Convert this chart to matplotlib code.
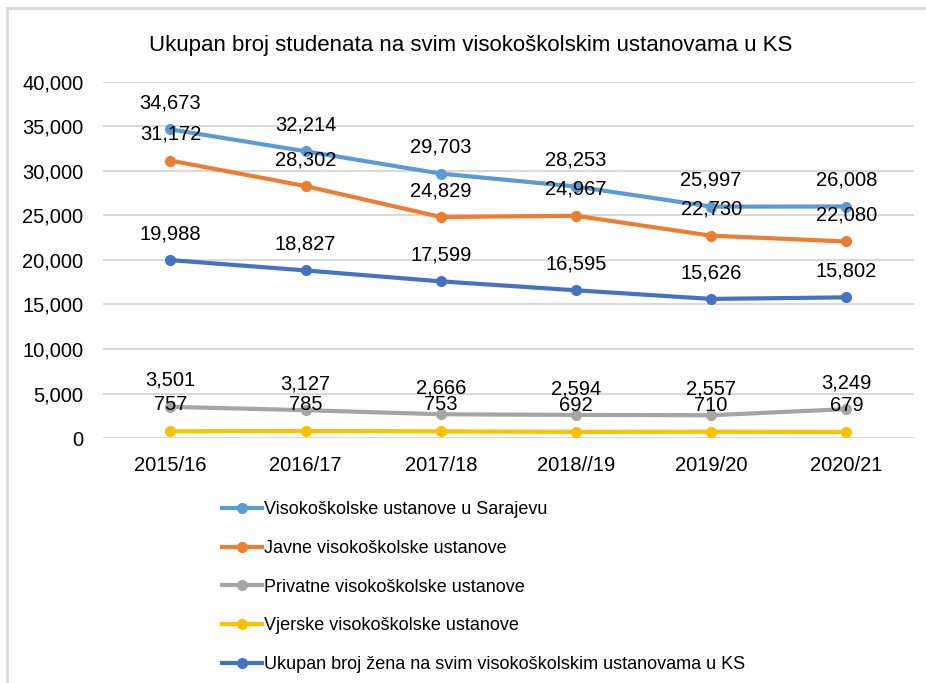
import matplotlib
matplotlib.use("Agg")
import matplotlib.pyplot as plt
from matplotlib.lines import Line2D

plt.rcParams['font.family'] = ['Liberation Sans', 'DejaVu Sans']

# Data
years = ["2015/16", "2016/17", "2017/18", "2018//19", "2019/20", "2020/21"]
sarajevo = [34673, 32214, 29703, 28253, 25997, 26008]
javne = [31172, 28302, 24829, 24967, 22730, 22080]
privatne = [3501, 3127, 2666, 2594, 2557, 3249]
vjerske = [757, 785, 753, 692, 710, 679]
zene = [19988, 18827, 17599, 16595, 15626, 15802]

series = [
    ("Visokoškolske ustanove u Sarajevu", sarajevo, "#5B9BD5"),
    ("Javne visokoškolske ustanove", javne, "#ED7D31"),
    ("Privatne visokoškolske ustanove", privatne, "#A5A5A5"),
    ("Vjerske visokoškolske ustanove", vjerske, "#FFC000"),
    ("Ukupan broj žena na svim visokoškolskim ustanovama u KS", zene, "#4472C4"),
]
yticks = [0, 5000, 10000, 15000, 20000, 25000, 30000, 35000, 40000]
title = "Ukupan broj studenata na svim visokoškolskim ustanovama u KS"

fig = plt.figure(figsize=(9.26, 6.83), dpi=100)
ax = fig.add_axes([0.111, 0.3587, 0.876, 0.5213])

x = list(range(len(years)))
handles = []
for name, vals, col in series:
    ax.plot(x, vals, color=col, lw=3, marker='o', ms=7, zorder=3,
            solid_capstyle='round')
    for xi, v in zip(x, vals):
        ax.annotate(f"{v:,}", (xi, v), xytext=(0, 19), textcoords='offset points',
                    ha='center', va='center', fontsize=14.5, color='#000000', zorder=5)
    handles.append(Line2D([0], [0], color=col, lw=3, marker='o', ms=7))

ax.set_xlim(-0.5, len(years) - 0.5)
ax.set_ylim(0, 40000)
ax.set_yticks(yticks)
ax.set_yticklabels([f"{t:,}" for t in yticks], fontsize=14.5)
ax.set_xticks(x)
ax.set_xticklabels(years, fontsize=14.5)
ax.tick_params(length=0, pad=14, axis='y')
ax.tick_params(length=0, pad=13, axis='x')
ax.grid(axis='y', color='#D9D9D9', lw=1.5, zorder=0)
for s in ax.spines.values():
    s.set_visible(False)

fig.text(0.508, 0.934, title, ha='center', va='center', fontsize=16,
         fontweight='medium')

leg = fig.legend(handles, [s[0] for s in series], loc='upper left',
                 bbox_to_anchor=(0.222, 0.29), frameon=False, ncol=1,
                 handlelength=2.2, handletextpad=0.15, labelspacing=1.2,
                 prop={'size': 13})

# chart border (top and left visible)
fig.add_artist(Line2D([0.008, 1.0], [0.988, 0.988], color='#D9D9D9', lw=2))
fig.add_artist(Line2D([0.008, 0.008], [0.0, 0.988], color='#D9D9D9', lw=2))

fig.savefig("out.png", dpi=100)
